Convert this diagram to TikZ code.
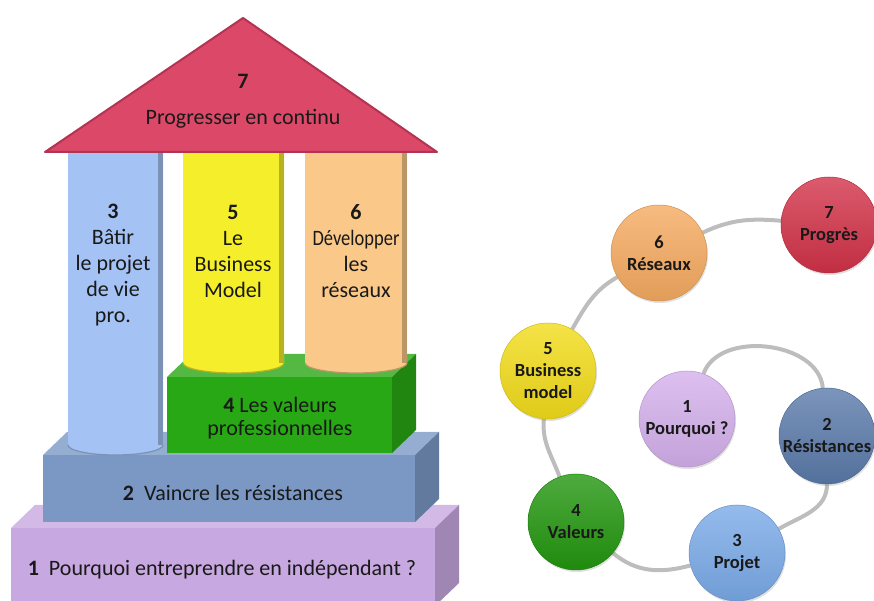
\documentclass[tikz,border=0pt]{standalone}
\usepackage{fontspec}
\setmainfont{Carlito}
\usetikzlibrary{shadows,backgrounds}

\definecolor{roofred}{HTML}{DC4868}
\definecolor{roofedge}{HTML}{B33452}
\definecolor{pilblue}{HTML}{A4C2F4}
\definecolor{pilyellow}{HTML}{F5EE2A}
\definecolor{pilorange}{HTML}{FAC888}
\definecolor{boxgreen}{HTML}{28A814}
\definecolor{boxblue}{HTML}{7B98C4}
\definecolor{boxpurple}{HTML}{C8A8E0}
\definecolor{ringgrey}{HTML}{BDBDBD}
\definecolor{balred}{HTML}{D23248}
\definecolor{balorange}{HTML}{F5AA60}
\definecolor{balyellow}{HTML}{F2DC1A}
\definecolor{ballilac}{HTML}{D4B0EC}
\definecolor{balsteel}{HTML}{5A7AAA}
\definecolor{balgreen}{HTML}{22960E}
\definecolor{balsky}{HTML}{7AAAE8}

% front x1, front y1, front x2, front y2, colour (depth fixed)
\newcommand{\slab}[5]{%
  \fill [#5!80!white] (#1,#4) -- (#1+24,#4+23) -- (#3+24,#4+23) -- (#3,#4) -- cycle;
  \fill [#5!80!black] (#3,#2) -- (#3,#4) -- (#3+24,#4+23) -- (#3+24,#2+23) -- cycle;
  \fill [#5] (#1,#2) rectangle (#3,#4);
}
% left x, right x, bottom y, colour
\newcommand{\pillar}[4]{%
  \fill [#4] (#1,452) -- (#1,#3) arc [start angle=180, end angle=360, x radius={(#2-#1)/2}, y radius=10] -- (#2,452) -- cycle;
  \fill [#4!75!black] (#2-5,452) rectangle (#2,#3);
  \draw [#4!75!black, line width=1.2pt] (#1,#3) arc [start angle=180, end angle=360, x radius={(#2-#1)/2}, y radius=10];
}

\tikzset{
  housetext/.style={align=center, text=black!90, font=\fontsize{22}{26}\selectfont},
  ball/.style={circle, minimum size=96pt, inner sep=0pt, align=center, text=black!90,
    font=\fontsize{18.5}{22}\selectfont\bfseries,
    top color=#1!80!white, bottom color=#1!92!black, draw=#1!85!black, line width=0.5pt,
    drop shadow={opacity=0.25, shadow xshift=1pt, shadow yshift=-2pt}},
  ring/.style={ringgrey, line width=4pt}
}

\begin{document}
\begin{tikzpicture}[x=1pt, y=1pt]
    \useasboundingbox (0,0) rectangle (874,601);

    % Draw the house, from the ground up
    \slab{11}{-5}{435}{73}{boxpurple}
    \slab{43}{79}{415}{146}{boxblue}
    \slab{167}{148}{392}{224}{boxgreen}

    \pillar{68}{163}{156}{pilblue}
    \pillar{183}{284}{238}{pilyellow}
    \pillar{305}{407}{238}{pilorange}

    \coordinate (rla) at (45, 449);
    \coordinate (rtop) at (243, 583);
    \coordinate (rra) at (437, 449);
    \draw [roofedge, fill=roofred, line width=2pt, line join=round] (rla) -- (rtop) -- (rra) -- cycle;

    \node [housetext] (troof) at (243, 500) {{\bfseries 7}\\[10pt]Progresser en continu};
    \node [housetext] (tpil3) at (113, 336) {{\bfseries 3}\\Bâtir\\le projet\\de vie\\pro.};
    \node [housetext] (tpil5) at (233, 350) {{\bfseries 5}\\Le\\Business\\Model};
    \node [housetext] (tpil6) at (356, 350) {{\bfseries 6}\\\scalebox{0.84}[1]{Développer}\\les\\réseaux};
    \node [housetext, font=\fontsize{22}{23}\selectfont] (tval) at (280, 183) {{\bfseries 4} Les valeurs\\professionnelles};
    \node [housetext] (tres) at (233, 108) {{\bfseries 2}~~Vaincre les résistances};
    \node [housetext] (tpq) at (222, 31) {{\bfseries 1}~~Pourquoi entreprendre en indépendant ?};

    % Draw the seven steps
    \node [ball=ballilac] (c1) at (687, 182) {1\\Pourquoi~?};
    \node [ball=balsteel] (c2) at (827, 165) {2\\Résistances};
    \node [ball=balsky] (c3) at (737, 48) {3\\Projet};
    \node [ball=balgreen] (c4) at (576, 79) {4\\Valeurs};
    \node [ball=balyellow] (c5) at (548, 230) {5\\Business\\model};
    \node [ball=balorange] (c6) at (659, 348) {6\\Réseaux};
    \node [ball=balred] (c7) at (829, 376) {7\\Progrès};

    \begin{scope}[on background layer]
        \draw [ring] (c1) to [out=70, in=95] (c2);
        \draw [ring] (c2) to [out=-90, in=30] (c3);
        \draw [ring] (c3) to [out=195, in=-40] (c4);
        \draw [ring] (c4) to [out=110, in=-95] (c5);
        \draw [ring] (c5) to [out=60, in=210] (c6);
        \draw [ring] (c6) to [out=25, in=175] (c7);
    \end{scope}

\end{tikzpicture}
\end{document}
